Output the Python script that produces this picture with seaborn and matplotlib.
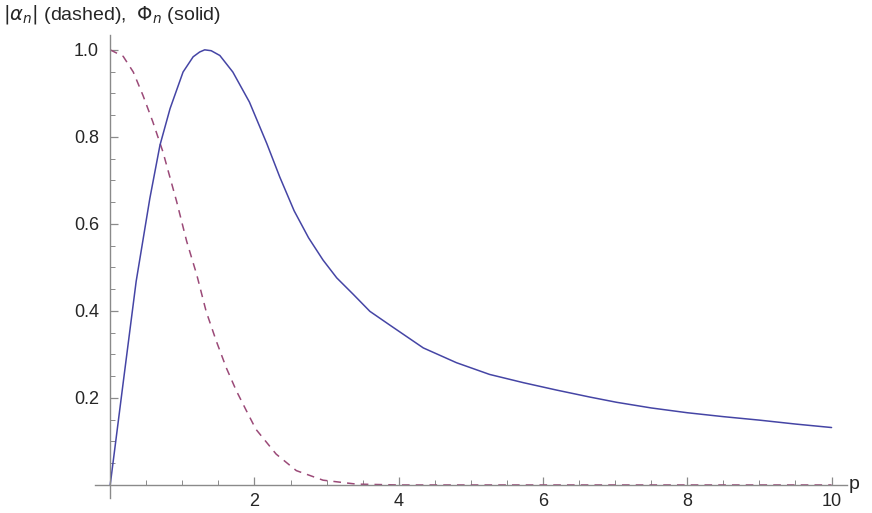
import numpy as np
import pandas as pd
import seaborn as sns
import matplotlib.pyplot as plt
from matplotlib.ticker import FixedLocator

# values
p_solid = [0.0, 0.18, 0.36, 0.55, 0.69, 0.83, 1.01, 1.15, 1.24, 1.31, 1.40, 1.52, 1.70,
           1.93, 2.17, 2.35, 2.55, 2.75, 2.95, 3.14, 3.37, 3.60, 3.88, 4.34, 4.80,
           5.26, 5.73, 6.19, 6.65, 7.02, 7.50, 8.00, 8.50, 9.00, 9.50, 10.0]
phi_n = [0.0, 0.235, 0.468, 0.659, 0.781, 0.865, 0.949, 0.984, 0.995, 1.0, 0.998, 0.987, 0.949,
         0.880, 0.785, 0.708, 0.630, 0.568, 0.517, 0.476, 0.438, 0.399, 0.367, 0.315, 0.281,
         0.254, 0.235, 0.218, 0.202, 0.190, 0.177, 0.166, 0.157, 0.149, 0.140, 0.132]

p_dashed = [0.0, 0.18, 0.32, 0.455, 0.59, 0.73, 0.92, 1.06, 1.20, 1.33, 1.47, 1.61, 1.75,
            1.89, 2.02, 2.30, 2.58, 2.95, 3.41, 4.0, 6.0, 8.0, 10.0]
alpha_n = [1.0, 0.985, 0.949, 0.895, 0.835, 0.766, 0.652, 0.560, 0.483, 0.399, 0.331, 0.269,
           0.216, 0.170, 0.128, 0.071, 0.033, 0.011, 0.002, 0.0, 0.0, 0.0, 0.0]

x_major = [2, 4, 6, 8, 10]
y_major = [0.2, 0.4, 0.6, 0.8, 1.0]

sns.set_style("white")
plt.rcParams['font.family'] = ['Liberation Sans', 'DejaVu Sans']

fig = plt.figure(figsize=(8.72, 5.13), dpi=100)
ax = fig.add_axes([0.109, 0.0292, 0.862, 0.9025])

df_s = pd.DataFrame({'p': p_solid, 'v': phi_n})
df_d = pd.DataFrame({'p': p_dashed, 'v': alpha_n})
sns.lineplot(data=df_d, x='p', y='v', ax=ax, color='#9B4A78', lw=1.1,
             linestyle=(0, (5, 4)))
sns.lineplot(data=df_s, x='p', y='v', ax=ax, color='#4545A5', lw=1.1)

ax.set_xlim(-0.21, 10.21)
ax.set_ylim(-0.03, 1.034)
for s in ['top', 'right']:
    ax.spines[s].set_visible(False)
ax.spines['left'].set_position(('data', 0))
ax.spines['bottom'].set_position(('data', 0))
for s in ['left', 'bottom']:
    ax.spines[s].set_color('#8a8a8a')
    ax.spines[s].set_linewidth(1.0)

ax.xaxis.set_major_locator(FixedLocator(x_major))
ax.xaxis.set_minor_locator(FixedLocator([v / 2 for v in range(1, 21) if v % 4 != 0]))
ax.yaxis.set_major_locator(FixedLocator(y_major))
ax.yaxis.set_minor_locator(FixedLocator([v / 20 for v in range(1, 21) if v % 4 != 0]))
ax.tick_params(which='both', direction='in', color='#8a8a8a', labelsize=13,
               bottom=True, left=True)
ax.tick_params(which='major', length=6, width=0.9)
ax.tick_params(which='minor', length=3.5, width=0.7)
ax.tick_params(axis='x', pad=6)
ax.tick_params(axis='y', pad=8)
ax.set_xticklabels([str(v) for v in x_major])
ax.set_yticklabels(['%.1f' % v for v in y_major])
ax.set_xlabel('')
ax.set_ylabel('')

fig.text(0.003, 0.972, r'$|\alpha_n|$ (dashed),  $\Phi_n$ (solid)', fontsize=14,
         ha='left', va='center')
fig.text(0.973, 0.055, 'p', fontsize=14, ha='left', va='center')

fig.savefig('out.png', dpi=100)
